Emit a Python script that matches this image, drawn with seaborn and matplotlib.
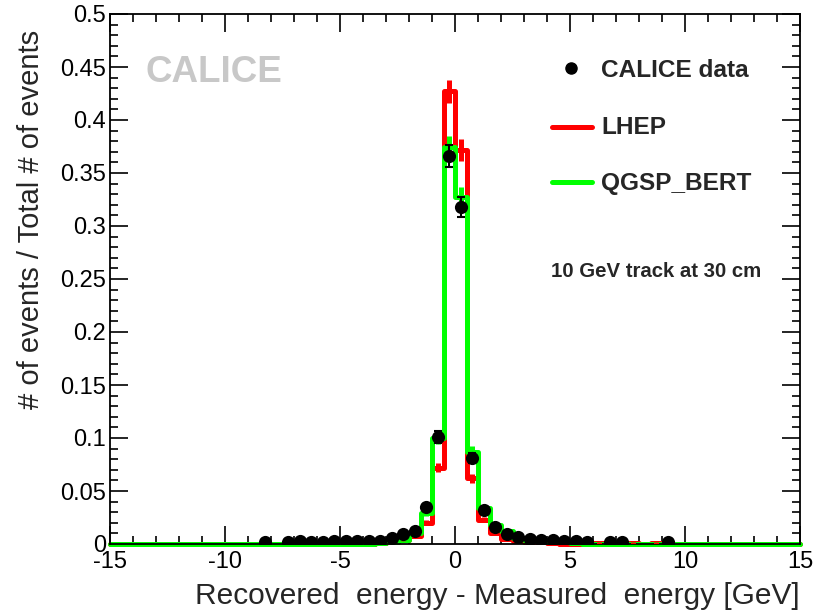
import numpy as np
import pandas as pd
import matplotlib
matplotlib.use("Agg")
import matplotlib.pyplot as plt
import seaborn as sns
from matplotlib.ticker import MultipleLocator, FormatStrFormatter

# Histogram binning [GeV]
bin_edges = [float(e) for e in np.arange(-15.0, 15.0 + 0.25, 0.5)]

# CALICE data: bin centres and fraction of events
data_x = [-8.25, -7.25, -6.75, -6.25, -5.75, -5.25, -4.75, -4.25, -3.75, -3.25,
          -2.75, -2.25, -1.75, -1.25, -0.75, -0.25, 0.25, 0.75, 1.25, 1.75,
          2.25, 2.75, 3.25, 3.75, 4.25, 4.75, 5.25, 5.75, 6.75, 7.25, 9.25]
data_y = [0.002, 0.002, 0.003, 0.002, 0.002, 0.003, 0.003, 0.003, 0.003, 0.003,
          0.006, 0.009, 0.012, 0.035, 0.101, 0.366, 0.318, 0.081, 0.032, 0.016,
          0.009, 0.007, 0.005, 0.004, 0.004, 0.003, 0.003, 0.002, 0.002, 0.002, 0.002]

# LHEP simulation
lhep_x = [-3.25, -2.75, -2.25, -1.75, -1.25, -0.75, -0.25, 0.25, 0.75, 1.25,
          1.75, 2.25, 2.75, 3.25, 3.75, 4.25, 6.25, 7.75, 8.75]
lhep_y = [0.001, 0.002, 0.004, 0.008, 0.020, 0.072, 0.427, 0.372, 0.062, 0.023,
          0.010, 0.005, 0.003, 0.002, 0.002, 0.001, 0.001, 0.001, 0.001]

# QGSP_BERT simulation
qgsp_x = [-3.25, -2.75, -2.25, -1.75, -1.25, -0.75, -0.25, 0.25, 0.75, 1.25,
          1.75, 2.25, 2.75, 3.25, 3.75, 4.25, 4.75, 5.25]
qgsp_y = [0.001, 0.002, 0.004, 0.010, 0.029, 0.100, 0.375, 0.327, 0.087, 0.034,
          0.018, 0.012, 0.006, 0.004, 0.003, 0.002, 0.002, 0.001]

# Statistics used for the Poisson error bars
n_events = 3500

sns.set_style("ticks")
plt.rcParams["font.family"] = ["Liberation Sans", "DejaVu Sans"]
plt.rcParams["axes.unicode_minus"] = False

fig = plt.figure(figsize=(8.24, 6.13), dpi=100)
ax = fig.add_axes([110 / 824, 1 - 544 / 613, 690 / 824, 530 / 613])

RED = "#ff0000"
GREEN = "#00ff00"
LW = 3.6

for xs, ys, col in [(lhep_x, lhep_y, RED), (qgsp_x, qgsp_y, GREEN)]:
    df = pd.DataFrame({"x": xs, "w": ys})
    sns.histplot(data=df, x="x", weights="w", bins=bin_edges, element="step",
                 fill=False, color=col, linewidth=LW, ax=ax, clip_on=False)
    yv = np.array(ys)
    ax.errorbar(xs, yv, yerr=np.sqrt(yv / n_events), fmt="none", ecolor=col,
                elinewidth=LW, capsize=0, zorder=3)

dy = np.array(data_y)
ax.errorbar(data_x, dy, yerr=np.sqrt(dy / n_events), fmt="none", ecolor="black",
            elinewidth=1.5, capsize=3, capthick=1.5, zorder=5)
sns.scatterplot(x=data_x, y=data_y, color="black", s=90, edgecolor="black",
                linewidth=0, ax=ax, zorder=6)

ax.set_xlim(-15, 15)
ax.set_ylim(0, 0.5)
ax.xaxis.set_major_locator(MultipleLocator(5))
ax.xaxis.set_minor_locator(MultipleLocator(1))
ax.yaxis.set_major_locator(MultipleLocator(0.05))
ax.yaxis.set_minor_locator(MultipleLocator(0.01))
ax.yaxis.set_major_formatter(FormatStrFormatter("%g"))
ax.tick_params(which="both", direction="in", top=True, right=True,
               labelsize=17, width=1.2, colors="black")
ax.tick_params(axis="x", pad=5)
ax.tick_params(axis="y", pad=3)
ax.tick_params(which="major", length=13)
ax.tick_params(which="minor", length=6)
for sp in ax.spines.values():
    sp.set_linewidth(1.3)
    sp.set_color("black")

# Axis titles aligned to the axis ends
ax.set_xlabel("Recovered  energy - Measured  energy [GeV]", fontsize=21.5)
ax.xaxis.set_label_coords(1.0, -0.072)
ax.xaxis.label.set_horizontalalignment("right")
ax.set_ylabel("# of events / Total # of events", fontsize=21)
ax.yaxis.set_label_coords(-0.094, 0.97)
ax.yaxis.label.set_horizontalalignment("right")

# Legend block
ax.plot([0.668], [0.898], "o", color="black", markersize=8,
        transform=ax.transAxes, clip_on=False)
ax.text(0.712, 0.894, "CALICE data", transform=ax.transAxes, fontsize=17.6,
        fontweight="bold", va="center", ha="left")
ax.plot([0.641, 0.699], [0.787, 0.787], color=RED, linewidth=LW,
        transform=ax.transAxes)
ax.text(0.712, 0.785, "LHEP", transform=ax.transAxes, fontsize=17.6,
        fontweight="bold", va="center", ha="left")
ax.plot([0.641, 0.699], [0.683, 0.683], color=GREEN, linewidth=LW,
        transform=ax.transAxes)
ax.text(0.712, 0.681, "QGSP_BERT", transform=ax.transAxes, fontsize=17.6,
        fontweight="bold", va="center", ha="left")
ax.text(0.639, 0.515, "10 GeV track at 30 cm", transform=ax.transAxes,
        fontsize=14.7, fontweight="bold", va="center", ha="left")

ax.text(0.051, 0.89, "CALICE", transform=ax.transAxes, fontsize=26.5,
        fontweight="bold", color="#c8c8c8", va="center", ha="left")

fig.savefig("out.png", dpi=100)
